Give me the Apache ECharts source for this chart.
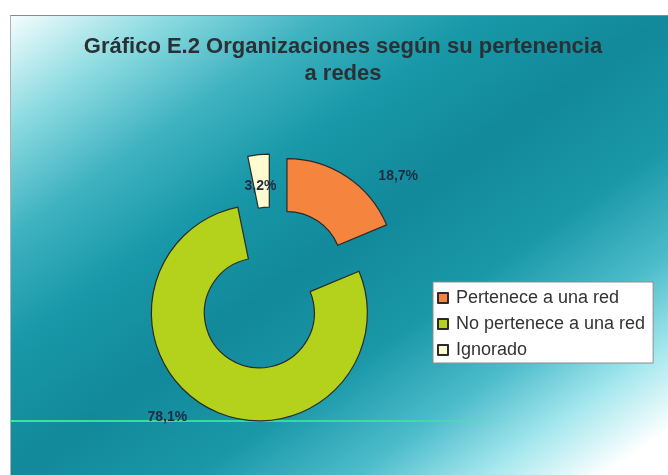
<!DOCTYPE html>
<html>
<head>
<meta charset="utf-8">
<script src="https://cdn.jsdelivr.net/npm/echarts@6/dist/echarts.min.js"></script>
<style>
  html, body { margin: 0; padding: 0; background: #fff; }
  #frame {
    position: absolute; left: 10px; top: 15px; width: 658px; height: 460px;
    border-top: 1px solid #8a8a8a; border-left: 1px solid #b0b0b0;
    background: linear-gradient(to bottom right,
      #f4fdfd 0%, #8cdbe0 12%, #3fb2c0 24%, #1898a8 36%, #12899a 50%,
      #1a98a8 64%, #4dbccb 76%, #a6e8ee 86%, #ffffff 95%);
  }
  #main { position: absolute; left: 0; top: 0; width: 668px; height: 475px; }
</style>
</head>
<body>
<div id="frame"></div>
<div id="main"></div>
<script>
// datos
var categorias = ['Pertenece a una red', 'No pertenece a una red', 'Ignorado'];
var porcentajes = [18.7, 78.1, 3.2];
var colores = ['#f5843f', '#b4d11c', '#fdfbcf'];

var myChart = echarts.init(document.getElementById('main'));

var datos = categorias.map(function (c, i) {
  return { name: c, value: porcentajes[i], selected: true, itemStyle: { color: colores[i] } };
});

// ajuste fino de las etiquetas
var desplaza = [[21, 8], [-12, 0], [24, 41]];

var option = {
  animation: false,
  title: {
    text: 'Gráfico E.2 Organizaciones según su pertenencia\na redes',
    left: 338,
    top: 28,
    textAlign: 'center',
    textStyle: {
      fontFamily: 'Liberation Sans, Arial, sans-serif',
      fontSize: 22,
      fontWeight: 'bold',
      color: '#2a3034',
      lineHeight: 27
    }
  },
  legend: {
    orient: 'vertical',
    left: 433,
    top: 282,
    icon: 'rect',
    itemWidth: 10,
    itemHeight: 10,
    itemGap: 6,
    padding: [6, 8, 3, 4],
    backgroundColor: '#ffffff',
    borderColor: '#8c8c8c',
    borderWidth: 1,
    borderRadius: 0,
    selectedMode: false,
    textStyle: {
      fontFamily: 'Liberation Sans, Arial, sans-serif',
      fontSize: 18,
      color: '#333',
      lineHeight: 20,
      padding: [0, 0, 0, 3]
    },
    data: categorias
  },
  graphic: [{
    type: 'line',
    silent: true,
    shape: { x1: 10, y1: 421, x2: 668, y2: 421 },
    style: {
      lineWidth: 2,
      stroke: {
        type: 'linear', x: 0, y: 0, x2: 1, y2: 0,
        colorStops: [
          { offset: 0, color: 'rgba(60,240,150,0.9)' },
          { offset: 0.6, color: 'rgba(60,240,150,0.7)' },
          { offset: 0.75, color: 'rgba(60,240,150,0)' },
          { offset: 1, color: 'rgba(60,240,150,0)' }
        ]
      }
    }
  }],
  series: [{
    type: 'pie',
    center: [272, 289],
    radius: [55, 108],
    startAngle: 90,
    clockwise: true,
    selectedMode: 'multiple',
    selectedOffset: 27,
    emphasis: { disabled: true },
    itemStyle: { borderColor: '#2a2a2a', borderWidth: 1.2 },
    label: {
      show: true,
      position: 'outside',
      fontFamily: 'Liberation Sans, Arial, sans-serif',
      fontSize: 14,
      fontWeight: 'bold',
      color: '#1f2b45',
      formatter: function (p) {
        return p.value.toFixed(1).replace('.', ',') + '%';
      }
    },
    labelLine: { show: false, length: 10, length2: 0 },
    labelLayout: function (p) {
      return { dx: desplaza[p.dataIndex][0], dy: desplaza[p.dataIndex][1], hideOverlap: false };
    },
    data: datos
  }]
};

myChart.setOption(option);
</script>
</body>
</html>
